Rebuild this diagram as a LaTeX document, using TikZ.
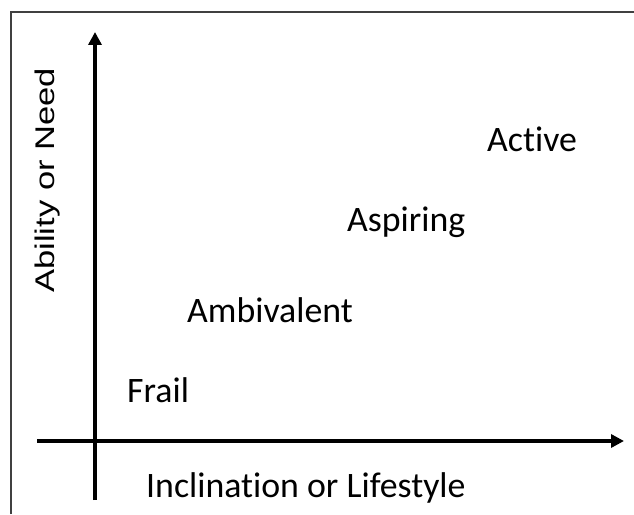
\documentclass[tikz,border=0pt]{standalone}
\usepackage{fontspec}
\setmainfont{Carlito}[Ligatures=NoCommon]
\newfontfamily\arialfont{Liberation Sans}
\usetikzlibrary{math,arrows.meta}

\begin{document}
\begin{tikzpicture}[x=1pt,y=1pt]
  \tikzmath{%
    \ox = 95; \oy = 73;
    \xl = 37; \xr = 624;
    \yb = 14; \yt = 482;
    \fx = 11; \fy = 502;
  }
  \useasboundingbox (0,0) rectangle (634,514);

  \coordinate (framebot) at (\fx,0);
  \coordinate (framecorner) at (\fx,\fy);
  \coordinate (frameright) at (634,\fy);
  \draw[line width=1.2pt, black!75] (framebot)--(framecorner)--(frameright);

  \coordinate (xstart) at (\xl,\oy);
  \coordinate (xend) at (\xr,\oy);
  \coordinate (ystart) at (\ox,\yb);
  \coordinate (yend) at (\ox,\yt);
  \draw[line width=4pt, -{Triangle[length=13pt,width=13pt]}] (xstart)--(xend);
  \draw[line width=4pt, -{Triangle[length=13pt,width=13pt]}] (ystart)--(yend);

  \tikzset{stage/.style={anchor=base west, inner sep=0pt, font=\fontsize{35.8}{42}\selectfont}}
  \node[stage] (active) at (487,362){Active};
  \node[stage] (aspiring) at (347,282){Aspiring};
  \node[stage] (ambivalent) at (187,191){Ambivalent};
  \node[stage] (frail) at (127,111){Frail};
  \node[stage] (xlabel) at (146,17){Inclination or Lifestyle};
  \node[anchor=base west, inner sep=0pt, rotate=90, xscale=1.28,
        font=\arialfont\fontsize{27}{30}\selectfont] (ylabel) at (54,221){Ability or Need};
\end{tikzpicture}
\end{document}
